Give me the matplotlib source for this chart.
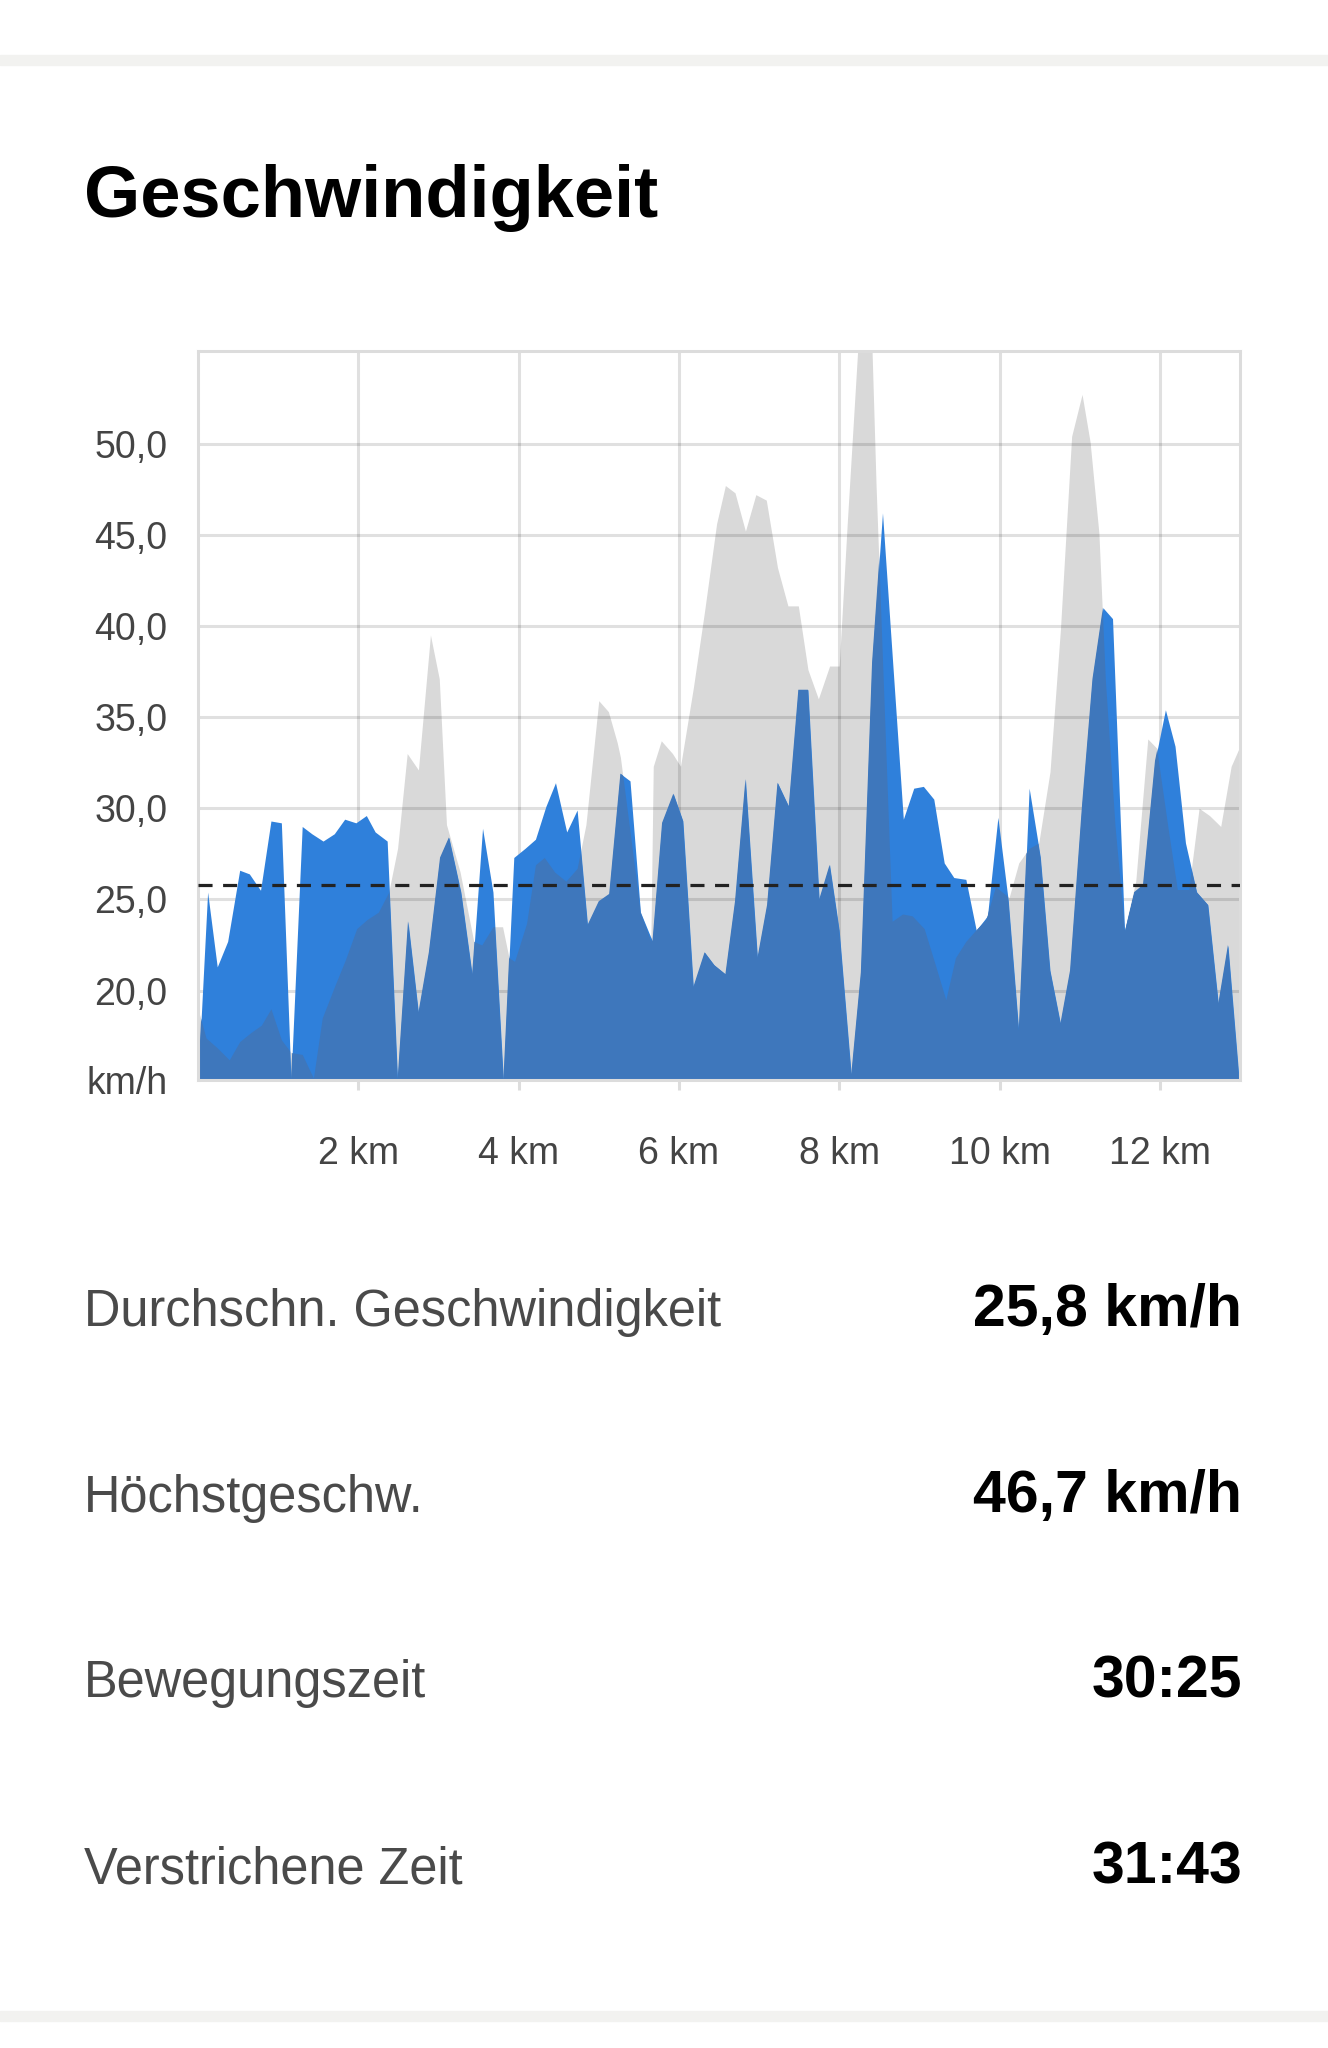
import matplotlib
matplotlib.use("Agg")
import matplotlib.pyplot as plt
from matplotlib.patches import Rectangle

# speed profile (km, km/h)
speed_km = [0.0, 0.12, 0.24, 0.37, 0.52, 0.64, 0.78, 0.91, 1.04, 1.16,
            1.30, 1.42, 1.56, 1.70, 1.83, 1.97, 2.10, 2.21, 2.36, 2.49,
            2.62, 2.75, 2.88, 3.02, 3.13, 3.28, 3.42, 3.55, 3.68, 3.81,
            3.94, 4.08, 4.21, 4.34, 4.46, 4.60, 4.73, 4.86, 5.00, 5.13,
            5.27, 5.39, 5.52, 5.67, 5.79, 5.93, 6.05, 6.18, 6.32, 6.44,
            6.58, 6.70, 6.83, 6.98, 7.10, 7.23, 7.37, 7.49, 7.61, 7.75,
            7.88, 8.00, 8.15, 8.27, 8.41, 8.54, 8.80, 8.93, 9.05, 9.18,
            9.31, 9.43, 9.58, 9.71, 9.85, 9.98, 10.11, 10.24, 10.37, 10.51,
            10.63, 10.76, 10.88, 11.03, 11.16, 11.29, 11.41, 11.56, 11.68, 11.79,
            11.94, 12.07, 12.19, 12.32, 12.46, 12.60, 12.73, 12.85, 12.99]
speed_kmh = [15.1, 25.4, 21.3, 22.7, 26.6, 26.4, 25.5, 29.3, 29.2, 15.1,
             29.0, 28.6, 28.2, 28.6, 29.4, 29.2, 29.6, 28.7, 28.2, 15.1,
             23.8, 18.8, 22.1, 27.3, 28.4, 25.4, 20.9, 28.9, 25.4, 15.1,
             27.3, 27.8, 28.3, 30.1, 31.4, 28.7, 29.9, 23.6, 24.9, 25.3,
             31.9, 31.5, 24.3, 22.7, 29.2, 30.8, 29.3, 20.2, 22.1, 21.4,
             20.9, 24.9, 31.6, 21.8, 24.7, 31.4, 30.1, 36.5, 36.5, 25.0,
             26.9, 23.3, 15.4, 21.0, 38.0, 46.2, 29.4, 31.1, 31.2, 30.5,
             27.0, 26.2, 26.1, 23.3, 24.1, 29.5, 24.9, 17.8, 31.1, 27.3,
             21.1, 18.2, 21.1, 30.2, 37.1, 41.0, 40.4, 23.3, 25.4, 25.8,
             32.6, 35.4, 33.4, 28.1, 25.4, 24.7, 19.3, 22.5, 15.1]

# elevation profile in the background, in plotted units
elev_km = [0.0, 0.10, 0.23, 0.39, 0.52, 0.66, 0.79, 0.91, 1.04, 1.16,
           1.30, 1.44, 1.55, 1.71, 1.84, 1.98, 2.11, 2.25, 2.38, 2.49,
           2.61, 2.75, 2.90, 3.01, 3.10, 3.27, 3.44, 3.54, 3.68, 3.80,
           3.88, 3.95, 4.10, 4.21, 4.32, 4.45, 4.59, 4.73, 4.84, 5.00,
           5.12, 5.23, 5.27, 5.52, 5.65, 5.68, 5.78, 5.92, 6.02, 6.18,
           6.32, 6.47, 6.58, 6.70, 6.83, 6.96, 7.09, 7.23, 7.36, 7.49,
           7.61, 7.74, 7.88, 8.00, 8.10, 8.27, 8.39, 8.46, 8.66, 8.79,
           8.91, 9.06, 9.20, 9.33, 9.45, 9.58, 9.72, 9.83, 9.95, 10.12,
           10.24, 10.37, 10.49, 10.63, 10.76, 10.90, 11.03, 11.13, 11.24, 11.32,
           11.44, 11.56, 11.70, 11.85, 11.96, 12.10, 12.22, 12.36, 12.49, 12.62,
           12.76, 12.89, 13.0]
elev_val = [19.0, 17.4, 16.9, 16.2, 17.2, 17.7, 18.1, 19.0, 17.3, 16.6,
            16.5, 15.2, 18.5, 20.3, 21.7, 23.4, 23.9, 24.3, 25.4, 27.8,
            33.0, 32.1, 39.5, 37.1, 29.1, 26.5, 22.7, 22.5, 23.5, 23.5,
            21.8, 21.6, 23.7, 26.9, 27.3, 26.5, 26.0, 26.7, 29.1, 35.9,
            35.3, 33.6, 32.8, 24.3, 22.7, 32.3, 33.7, 33.0, 32.3, 36.6,
            40.8, 45.6, 47.7, 47.3, 45.2, 47.2, 46.9, 43.2, 41.1, 41.1,
            37.6, 36.0, 37.8, 37.8, 45.6, 58.0, 58.0, 47.7, 23.8, 24.2,
            24.1, 23.4, 21.4, 19.5, 21.8, 22.7, 23.4, 23.9, 25.7, 25.1,
            27.0, 27.8, 28.1, 32.0, 39.8, 50.4, 52.7, 50.1, 45.1, 37.1,
            29.1, 23.3, 26.0, 33.8, 33.3, 29.0, 25.5, 25.5, 30.0, 29.6,
            29.0, 32.3, 33.4]

avg_speed = 25.8
y_ticks = [20, 25, 30, 35, 40, 45, 50]
y_labels = ["20,0", "25,0", "30,0", "35,0", "40,0", "45,0", "50,0"]
x_ticks = [2, 4, 6, 8, 10, 12]
x_labels = ["2 km", "4 km", "6 km", "8 km", "10 km", "12 km"]

stat_names = ["Durchschn. Geschwindigkeit", "Höchstgeschw.", "Bewegungszeit", "Verstrichene Zeit"]
stat_values = ["25,8 km/h", "46,7 km/h", "30:25", "31:43"]

BLUE = "#2f80db"
DARK = "#3e77bc"
GRAY = "#d9d9d9"
FONT = ["Liberation Sans", "DejaVu Sans"]
YMIN, YMAX = 15.1, 55.1

fig = plt.figure(figsize=(13.28, 20.48), dpi=100)
fig.patch.set_facecolor("white")

# light separator bands at top and bottom of the card
fig.patches.append(Rectangle((0, 0.9683), 1, 0.0049, transform=fig.transFigure,
                             color="#f2f2f0", zorder=0))
fig.patches.append(Rectangle((0, 0.0132), 1, 0.0049, transform=fig.transFigure,
                             color="#f2f2f0", zorder=0))

fig.text(0.0633, 0.8941, "Geschwindigkeit", fontsize=52, fontweight="bold",
         family=FONT, color="black", va="baseline", ha="left")

ax = fig.add_axes([0.1491, 0.4727, 0.7846, 0.3561])
ax.set_xlim(0, 13.0)
ax.set_ylim(YMIN, YMAX)

gray_fill = ax.fill_between(elev_km, elev_val, YMIN, color=GRAY, lw=0, zorder=1)
blue_fill = ax.fill_between(speed_km, speed_kmh, YMIN, color=BLUE, lw=0, zorder=2)
# darker blue where the elevation profile lies under the speed profile
overlap = ax.fill_between(elev_km, elev_val, YMIN, color=DARK, lw=0, zorder=2.1)
overlap.set_clip_path(blue_fill.get_paths()[0], ax.transData)

ax.axhline(avg_speed, color="#222222", lw=2.3, dashes=(4.4, 3.3), zorder=3)

ax.set_axisbelow("line")
ax.grid(True, color="black", alpha=0.12, lw=2.2)

ax.set_yticks([YMIN] + y_ticks)
ax.set_yticklabels(["km/h"] + y_labels)
ax.set_xticks(x_ticks)
ax.set_xticklabels(x_labels)
ax.tick_params(axis="y", length=0, pad=22, labelsize=27, labelcolor="#444444")
ax.tick_params(axis="x", length=7, width=2.2, color="#dddddd", pad=33.5,
               labelsize=27, labelcolor="#444444")
for lab in ax.get_xticklabels() + ax.get_yticklabels():
    lab.set_family(FONT)

for side in ["left", "top", "right", "bottom"]:
    ax.spines[side].set_color("#dcdcdc")
    ax.spines[side].set_linewidth(2.2)

# summary rows
row_y = [0.3525, 0.2619, 0.1712, 0.0805]
for name, value, y in zip(stat_names, stat_values, row_y):
    fig.text(0.0633, y, name, fontsize=36.4, family=FONT, color="#4a4a4a",
             va="baseline", ha="left")
    fig.text(0.9355, y, value, fontsize=42.5, family=FONT, fontweight="bold",
             color="black", va="baseline", ha="right")

fig.savefig("out.png", dpi=100, facecolor="white")
